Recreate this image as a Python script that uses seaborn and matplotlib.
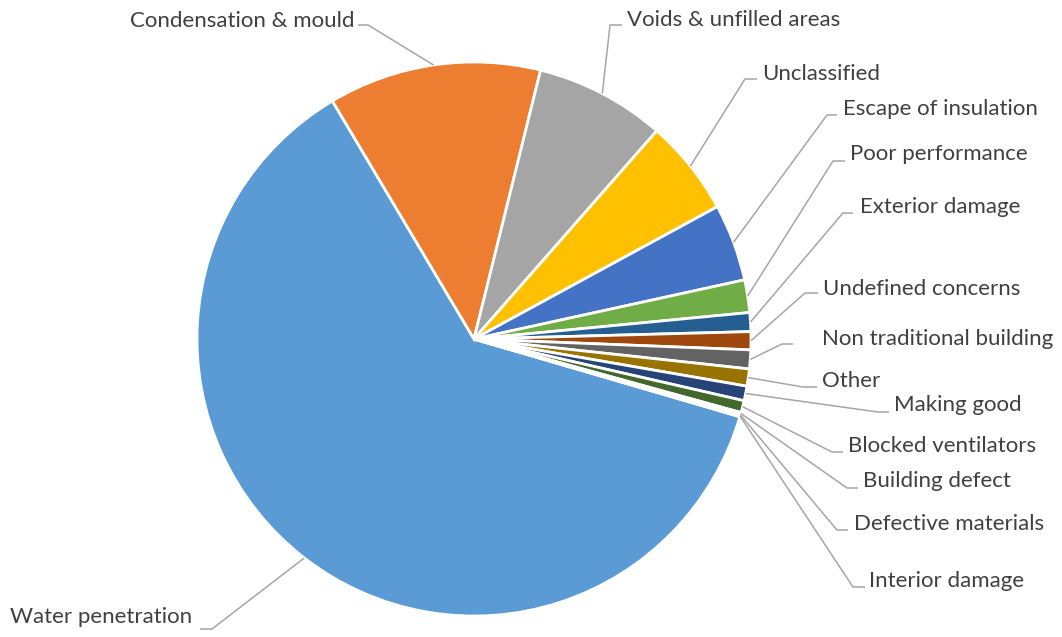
import numpy as np
import matplotlib
matplotlib.use("Agg")
import matplotlib.pyplot as plt
import seaborn as sns

# ---- data (percent share of complaints) ----
categories = [
    "Water penetration", "Condensation & mould", "Voids & unfilled areas",
    "Unclassified", "Escape of insulation", "Poor performance",
    "Exterior damage", "Undefined concerns", "Non traditional building",
    "Other", "Making good", "Blocked ventilators", "Building defect",
    "Defective materials", "Interior damage",
]
values = [61.9, 12.4, 7.6, 5.6, 4.5, 1.9, 1.1, 1.05, 1.1, 1.0, 0.85, 0.7,
          0.1, 0.08, 0.07]
colors = ["#5B9BD5", "#ED7D31", "#A5A5A5", "#FFC000", "#4472C4", "#70AD47",
          "#255E91", "#9E480E", "#636363", "#997300", "#264478", "#43682B",
          "#7CAFDD", "#F1975A", "#B7B7B7"]

# ---- layout (pixel positions of labels and leader elbows) ----
label_x = [192, 354, 627, 762, 843, 850, 860, 823, 822, 822, 894, 848, 863, 854, 869]
label_base = [623, 27, 26, 80, 115, 160, 213, 295, 345, 387, 411, 452, 487, 530, 587]
label_ha = ["right", "right"] + ["left"] * 13
line_near = [200, 358, 622, 757, 837, 845, 853, 818, 793, 817, 889, 843, 858, 848, 865]
line_elbow = [212, 368, 610, 745, 827, 833, 843, 805, 782, 803, 878, 832, 847, 837, 853]
line_y = [629, 25, 25, 79, 115, 161, 213, 293, 344, 387, 412, 452, 488, 530, 587]

sns.set_theme(style="white")
plt.rcParams["font.family"] = ["Lato", "DejaVu Sans"]

W, H = 1062, 637
fig = plt.figure(figsize=(W / 100, H / 100), dpi=100)
ax = fig.add_axes([0, 0, 1, 1])

cx, cy, R = 474, 339, 277
explode = [0.022] + [0] * (len(values) - 1)
wedges, _ = ax.pie(values, colors=colors, startangle=16.3, counterclock=True,
                   center=(cx, cy), radius=R, explode=explode,
                   wedgeprops=dict(edgecolor="white", linewidth=2.0))

ax.set_xlim(0, W)
ax.set_ylim(H, 0)
ax.set_aspect("equal")
ax.axis("off")

txt_color = "#404040"
line_color = "#A6A6A6"
for i, w in enumerate(wedges):
    mid = np.deg2rad((w.theta1 + w.theta2) / 2)
    ax_x = w.center[0] + w.r * np.cos(mid)
    ax_y = w.center[1] + w.r * np.sin(mid)
    ax.plot([ax_x, line_elbow[i], line_near[i]], [ax_y, line_y[i], line_y[i]],
            color=line_color, lw=1.1, solid_capstyle="butt", zorder=1)
    ax.text(label_x[i], label_base[i], categories[i], ha=label_ha[i],
            va="baseline", fontsize=16, color=txt_color)

fig.savefig("out.png", dpi=100, facecolor="white")
